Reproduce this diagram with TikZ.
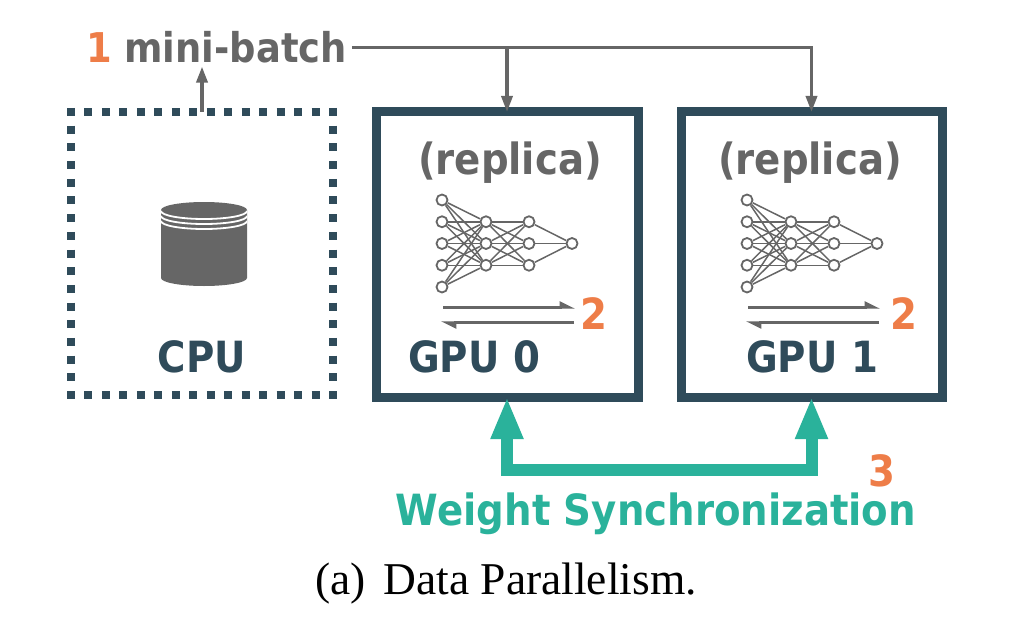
\documentclass[tikz,border=0pt]{standalone}
\usepackage{fontspec}
\setmainfont{Liberation Serif}
\newfontfamily\lblfont{DejaVu Sans}[FakeStretch=0.9]
\usetikzlibrary{arrows.meta}
\definecolor{boxC}{HTML}{2F4B5A}
\definecolor{grayC}{HTML}{666666}
\definecolor{orangeC}{HTML}{EE7D48}
\definecolor{tealC}{HTML}{2AB29B}
\begin{document}
\begin{tikzpicture}[x=1pt,y=-1pt,
  gpubox/.style={rectangle, draw=boxC, line width=9pt, inner sep=0pt, outer sep=0pt},
  cpuarea/.style={rectangle, draw=none, inner sep=0pt, outer sep=0pt},
  dotsH/.style={draw=boxC, line width=8pt, dash pattern=on 8pt off 9.47pt},
  dotsV/.style={draw=boxC, line width=8pt, dash pattern=on 8pt off 9.69pt},
  sanslbl/.style={font=\lblfont\bfseries\fontsize{43}{46}\selectfont, inner sep=0pt, outer sep=0pt},
  feedline/.style={draw=grayC, line width=3.5pt, line join=miter, -{Triangle[length=16pt,width=11pt]}},
  neuron/.style={circle, draw=grayC, fill=white, line width=1.8pt, minimum size=11pt, inner sep=0pt},
  synapse/.style={draw=grayC, line width=1.5pt},
  passarrow/.style={draw=grayC, line width=2.2pt, -{Triangle[harpoon,length=13pt,width=12pt]}},
  syncarrow/.style={draw=tealC, line width=12pt, line join=miter,
    {Triangle[length=42pt,width=30pt]}-{Triangle[length=42pt,width=30pt]}}
]
\useasboundingbox (0,0) rectangle (1027,623);

% boxes
\node[gpubox, minimum width=262pt, minimum height=285pt] (gpu0) at (507,254.5) {};
\node[gpubox, minimum width=261pt, minimum height=285pt] (gpu1) at (811.5,254.5) {};
\node[cpuarea, minimum width=262pt, minimum height=283pt] (cpu) at (202,253.5) {};
\draw[dotsH] ([xshift=-4pt]cpu.north west) -- ([xshift=4pt]cpu.north east);
\draw[dotsH] ([xshift=-4pt]cpu.south west) -- ([xshift=4pt]cpu.south east);
\draw[dotsV] ([yshift=4pt]cpu.north west) -- ([yshift=-4pt]cpu.south west);
\draw[dotsV] ([yshift=4pt]cpu.north east) -- ([yshift=-4pt]cpu.south east);

% database icon
\def\dbpath{(161,210) arc[start angle=180,end angle=0,x radius=43pt,y radius=8pt] -- (247,278) arc[start angle=0,end angle=-180,x radius=43pt,y radius=8pt] -- cycle}
\fill[grayC] \dbpath;
\begin{scope}
  \clip \dbpath;
  \foreach \c in {211,216,221}
    \draw[white, line width=1.8pt] (161,\c) arc[start angle=180,end angle=360,x radius=43pt,y radius=8pt];
\end{scope}

% labels
\node[sanslbl, font=\lblfont\bfseries\fontsize{41}{44}\selectfont, text=grayC, anchor=base west, inner xsep=5pt, inner ysep=3pt] (mb) at (81,63) {\textcolor{orangeC}{1} mini-batch};
\node[sanslbl, text=grayC, anchor=base] (rep0) at (510,174) {(replica)};
\node[sanslbl, text=grayC, anchor=base] (rep1) at (810,174) {(replica)};
\node[sanslbl, text=boxC, anchor=base] (g0lbl) at (474,372) {GPU 0};
\node[sanslbl, text=boxC, anchor=base] (g1lbl) at (812,372) {GPU 1};
\node[sanslbl, text=boxC, anchor=base] (cpulbl) at (202,372) {CPU};
\node[sanslbl, text=orangeC, anchor=base] (two0) at (594,329) {2};
\node[sanslbl, text=orangeC, anchor=base] (two1) at (904,329) {2};
\node[sanslbl, text=orangeC, anchor=base] (three) at (882,486) {3};
\node[sanslbl, text=tealC, anchor=base] (ws) at (656,525) {Weight Synchronization};
\node[font=\fontsize{45.5}{50}\selectfont, anchor=base, inner sep=0pt] (cap) at (506,594) {(a)\hspace{18pt}Data Parallelism.};

% mini-batch feed
\draw[feedline] (cpu.north) -- (cpu.north |- mb.south);
\draw[feedline] (mb.east) -| (gpu1.north);
\draw[feedline] (mb.east -| gpu0.north) -- (gpu0.north);

% neural nets
\foreach \dx/\g in {0/0,305/1} {
  \foreach \y [count=\i] in {200,221.75,243.5,265.25,287}
    \node[neuron] (n\g a\i) at (442+\dx,\y) {};
  \foreach \y [count=\i] in {221.75,243.5,265.25} {
    \node[neuron] (n\g b\i) at (486+\dx,\y) {};
    \node[neuron] (n\g c\i) at (529+\dx,\y) {};
  }
  \node[neuron] (n\g o) at (572+\dx,243.5) {};
  \foreach \i in {1,...,5}
    \foreach \j in {1,2,3}
      \draw[synapse] (n\g a\i) -- (n\g b\j);
  \foreach \i in {1,2,3} {
    \foreach \j in {1,2,3}
      \draw[synapse] (n\g b\i) -- (n\g c\j);
    \draw[synapse] (n\g c\i) -- (n\g o);
  }
  \coordinate (f\g s) at (443+\dx,307.5);
  \coordinate (f\g e) at (575+\dx,307.5);
  \coordinate (b\g s) at (574+\dx,322.5);
  \coordinate (b\g e) at (441+\dx,322.5);
  \draw[passarrow] (f\g s) -- (f\g e);
  \draw[passarrow] (b\g s) -- (b\g e);
}

% weight synchronization
\coordinate (bar) at (0,470);
\draw[syncarrow] (gpu0.south) -- (gpu0.south |- bar) -- (gpu1.south |- bar) -- (gpu1.south);
\end{tikzpicture}
\end{document}
